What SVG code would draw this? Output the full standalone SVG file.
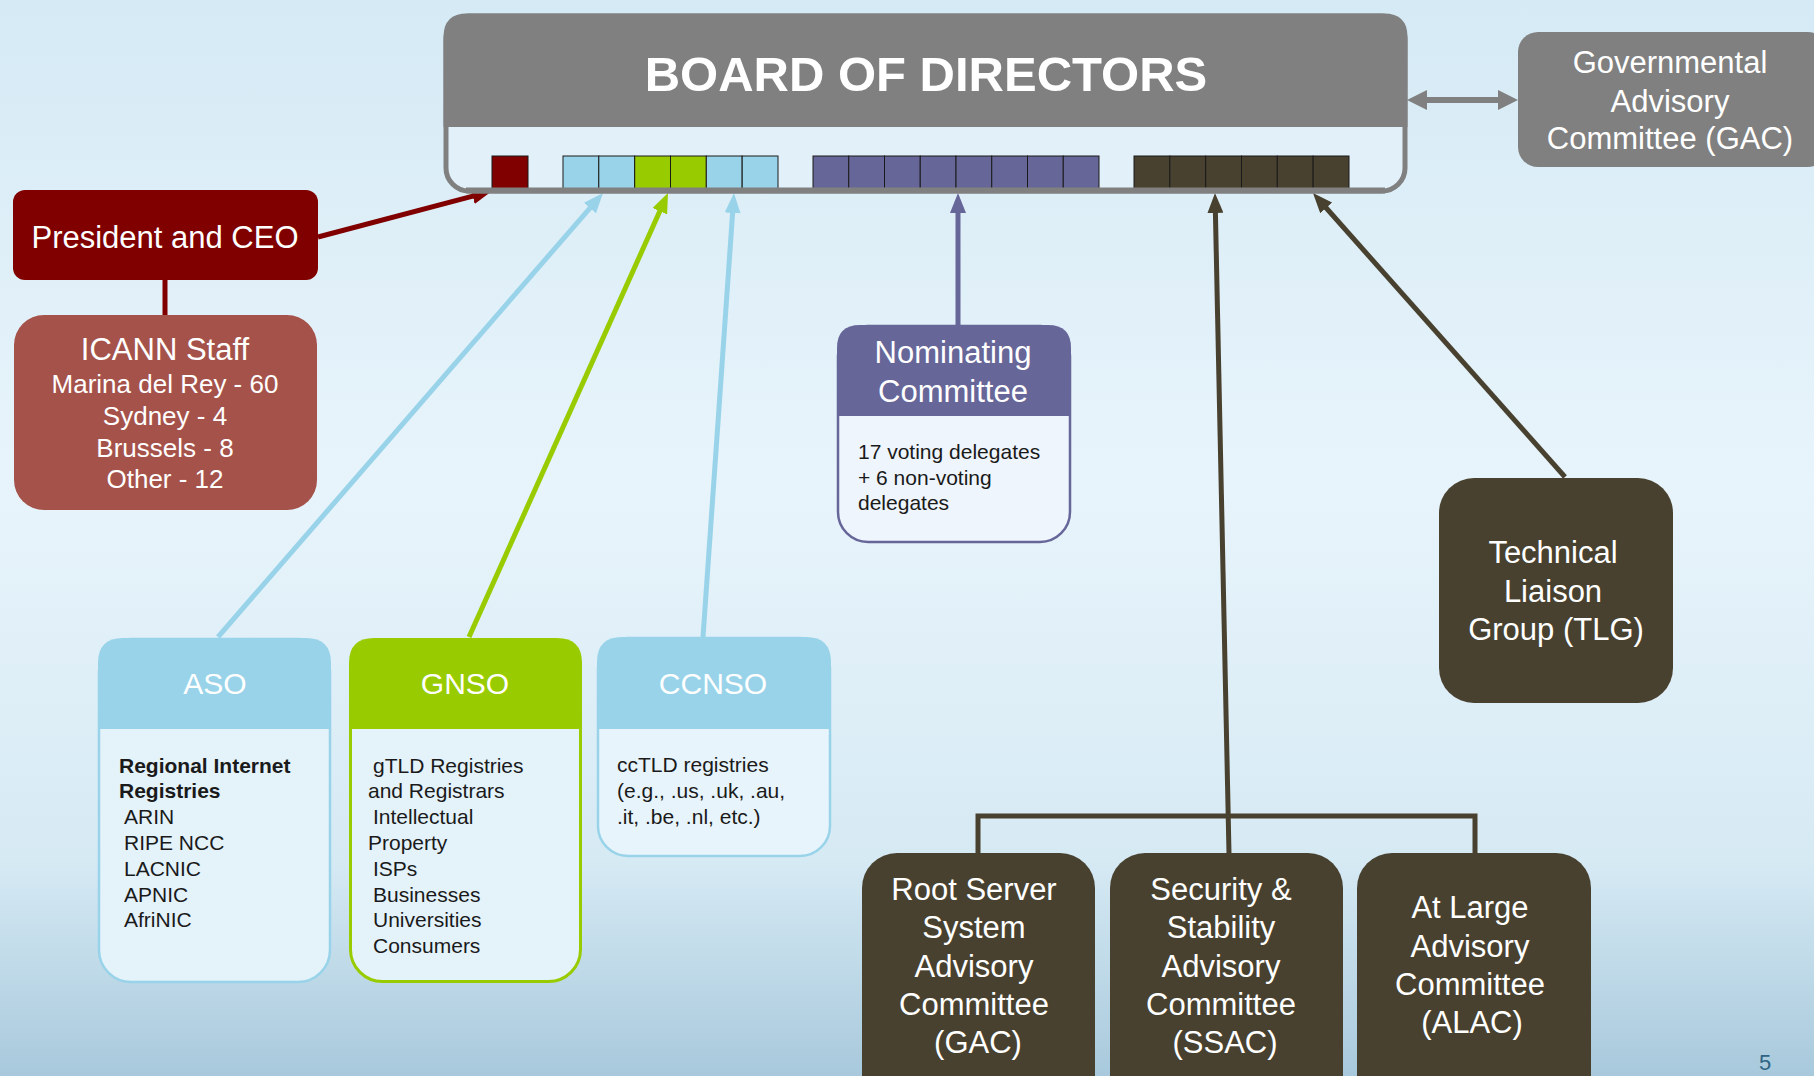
<svg xmlns="http://www.w3.org/2000/svg" width="1814" height="1076" viewBox="0 0 1814 1076">
<defs>
<linearGradient id="bg" x1="0" y1="0" x2="0" y2="1">
<stop offset="0" stop-color="#d5eaf5"/>
<stop offset="0.45" stop-color="#e8f4fb"/>
<stop offset="0.8" stop-color="#d6eaf4"/>
<stop offset="1" stop-color="#a8c9dc"/>
</linearGradient>
<marker id="aRed" viewBox="0 0 20 16" refX="10" refY="8" markerWidth="20" markerHeight="16" markerUnits="userSpaceOnUse" orient="auto"><path d="M0,0 L20,8 L0,16 Z" fill="#800000"/></marker>
<marker id="aBlue" viewBox="0 0 20 16" refX="10" refY="8" markerWidth="20" markerHeight="16" markerUnits="userSpaceOnUse" orient="auto"><path d="M0,0 L20,8 L0,16 Z" fill="#98d3e9"/></marker>
<marker id="aGreen" viewBox="0 0 20 16" refX="10" refY="8" markerWidth="20" markerHeight="16" markerUnits="userSpaceOnUse" orient="auto"><path d="M0,0 L20,8 L0,16 Z" fill="#99cc00"/></marker>
<marker id="aPurple" viewBox="0 0 20 16" refX="10" refY="8" markerWidth="20" markerHeight="16" markerUnits="userSpaceOnUse" orient="auto"><path d="M0,0 L20,8 L0,16 Z" fill="#666699"/></marker>
<marker id="aDark" viewBox="0 0 20 16" refX="10" refY="8" markerWidth="20" markerHeight="16" markerUnits="userSpaceOnUse" orient="auto"><path d="M0,0 L20,8 L0,16 Z" fill="#48412f"/></marker>
<marker id="aGray" viewBox="0 0 20 20" refX="10" refY="10" markerWidth="20" markerHeight="20" markerUnits="userSpaceOnUse" orient="auto-start-reverse"><path d="M0,0 L20,10 L0,20 Z" fill="#808080"/></marker>
</defs>
<style>
text{font-family:"Liberation Sans",Arial,sans-serif}
.w{fill:#ffffff}
.t31{font-size:31px;text-anchor:middle}
.body{font-size:21px;fill:#1a1a1a}
.b{font-weight:bold}
.sq{stroke:#1a1a1a;stroke-width:1}
.conn{fill:none;stroke-width:5}
</style>
<rect x="0" y="0" width="1814" height="1076" fill="url(#bg)"/>

<g id="connectors">
<line x1="165" y1="280" x2="165" y2="315" stroke="#800000" stroke-width="5"/>
<line class="conn" x1="318" y1="237" x2="482.3" y2="193.6" stroke="#800000" marker-end="url(#aRed)"/>
<line class="conn" x1="218" y1="637" x2="596.45" y2="200.55" stroke="#98d3e9" marker-end="url(#aBlue)"/>
<line class="conn" x1="469" y1="637" x2="663.9" y2="202.1" stroke="#99cc00" marker-end="url(#aGreen)"/>
<line class="conn" x1="703" y1="637" x2="733.3" y2="203" stroke="#98d3e9" marker-end="url(#aBlue)"/>
<line class="conn" x1="958" y1="325" x2="958" y2="203" stroke="#666699" marker-end="url(#aPurple)"/>
<line class="conn" x1="1229" y1="853" x2="1215.2" y2="203" stroke="#48412f" marker-end="url(#aDark)"/>
<path class="conn" d="M978,855 V816 H1475 V855" stroke="#48412f"/>
<line class="conn" x1="1565" y1="477" x2="1319.6" y2="200.5" stroke="#48412f" marker-end="url(#aDark)"/>
<line x1="1417" y1="100" x2="1508" y2="100" stroke="#808080" stroke-width="6" marker-start="url(#aGray)" marker-end="url(#aGray)"/>
</g>

<g id="board">
<rect x="446" y="16" width="959" height="175" rx="23" fill="#e2f1f9" stroke="#808080" stroke-width="5"/>
<path d="M443.5,127 V37 Q443.5,13.5 467,13.5 H1384 Q1407.5,13.5 1407.5,37 V127 Z" fill="#808080"/>
<text x="926" y="91" class="w b" font-size="49" text-anchor="middle">BOARD OF DIRECTORS</text>
<rect class="sq" x="492" y="156" width="36" height="33" fill="#800000"/>
<rect class="sq" x="563" y="156" width="35.8" height="33" fill="#98d3e9"/>
<rect class="sq" x="598.8" y="156" width="35.8" height="33" fill="#98d3e9"/>
<rect class="sq" x="634.7" y="156" width="35.8" height="33" fill="#99cc00"/>
<rect class="sq" x="670.5" y="156" width="35.8" height="33" fill="#99cc00"/>
<rect class="sq" x="706.3" y="156" width="35.8" height="33" fill="#98d3e9"/>
<rect class="sq" x="742.2" y="156" width="35.8" height="33" fill="#98d3e9"/>
<rect class="sq" x="813" y="156" width="35.75" height="33" fill="#666699"/>
<rect class="sq" x="848.75" y="156" width="35.75" height="33" fill="#666699"/>
<rect class="sq" x="884.5" y="156" width="35.75" height="33" fill="#666699"/>
<rect class="sq" x="920.25" y="156" width="35.75" height="33" fill="#666699"/>
<rect class="sq" x="956" y="156" width="35.75" height="33" fill="#666699"/>
<rect class="sq" x="991.75" y="156" width="35.75" height="33" fill="#666699"/>
<rect class="sq" x="1027.5" y="156" width="35.75" height="33" fill="#666699"/>
<rect class="sq" x="1063.25" y="156" width="35.75" height="33" fill="#666699"/>
<rect class="sq" x="1134" y="156" width="35.8" height="33" fill="#48412f"/>
<rect class="sq" x="1169.8" y="156" width="35.8" height="33" fill="#48412f"/>
<rect class="sq" x="1205.7" y="156" width="35.8" height="33" fill="#48412f"/>
<rect class="sq" x="1241.5" y="156" width="35.8" height="33" fill="#48412f"/>
<rect class="sq" x="1277.3" y="156" width="35.8" height="33" fill="#48412f"/>
<rect class="sq" x="1313.2" y="156" width="35.8" height="33" fill="#48412f"/>
<line x1="466" y1="190.5" x2="1385" y2="190.5" stroke="#808080" stroke-width="6"/>
</g>

<g id="gac">
<rect x="1518" y="32" width="310" height="135" rx="20" fill="#808080"/>
<text class="w t31" x="1670" y="73">Governmental</text>
<text class="w t31" x="1670" y="112">Advisory</text>
<text class="w t31" x="1670" y="149">Committee (GAC)</text>
</g>

<g id="president">
<rect x="13" y="190" width="305" height="90" rx="12" fill="#800000"/>
<text class="w t31" x="165" y="248">President and CEO</text>
</g>

<g id="staff">
<rect x="14" y="315" width="303" height="195" rx="30" fill="#a5524a"/>
<text class="w t31" x="165" y="360">ICANN Staff</text>
<text class="w" font-size="26" text-anchor="middle" x="165" y="393">Marina del Rey - 60</text>
<text class="w" font-size="26" text-anchor="middle" x="165" y="425">Sydney - 4</text>
<text class="w" font-size="26" text-anchor="middle" x="165" y="457">Brussels - 8</text>
<text class="w" font-size="26" text-anchor="middle" x="165" y="488">Other - 12</text>
</g>

<g id="aso">
<rect x="99" y="639" width="231" height="343" rx="32" fill="#e4f2fa" stroke="#98d3e9" stroke-width="2.5"/>
<path d="M98,729 V663 Q98,638 123,638 H306 Q331,638 331,663 V729 Z" fill="#98d3e9"/>
<text class="w" font-size="30" text-anchor="middle" x="215" y="694">ASO</text>
<text class="body b" x="119" y="773">Regional Internet</text>
<text class="body b" x="119" y="798">Registries</text>
<text class="body" x="124" y="824">ARIN</text>
<text class="body" x="124" y="850">RIPE NCC</text>
<text class="body" x="124" y="876">LACNIC</text>
<text class="body" x="124" y="902">APNIC</text>
<text class="body" x="124" y="927">AfriNIC</text>
</g>

<g id="gnso">
<rect x="350.5" y="639.5" width="230" height="342" rx="32" fill="#e4f2fa" stroke="#99cc00" stroke-width="3"/>
<path d="M349,729 V663 Q349,638 374,638 H557 Q582,638 582,663 V729 Z" fill="#99cc00"/>
<text class="w" font-size="30" text-anchor="middle" x="465" y="694">GNSO</text>
<text class="body" x="373" y="773">gTLD Registries</text>
<text class="body" x="368" y="798">and Registrars</text>
<text class="body" x="373" y="824">Intellectual</text>
<text class="body" x="368" y="850">Property</text>
<text class="body" x="373" y="876">ISPs</text>
<text class="body" x="373" y="902">Businesses</text>
<text class="body" x="373" y="927">Universities</text>
<text class="body" x="373" y="953">Consumers</text>
</g>

<g id="ccnso">
<rect x="598" y="638" width="232" height="218" rx="30" fill="#e8f4fb" stroke="#98d3e9" stroke-width="2.5"/>
<path d="M597,729 V662 Q597,637 622,637 H806 Q831,637 831,662 V729 Z" fill="#98d3e9"/>
<text class="w" font-size="30" text-anchor="middle" x="713" y="694">CCNSO</text>
<text class="body" x="617" y="772">ccTLD registries</text>
<text class="body" x="617" y="798">(e.g., .us, .uk, .au,</text>
<text class="body" x="617" y="824">.it, .be, .nl, etc.)</text>
</g>

<g id="nominating">
<rect x="838" y="326" width="232" height="216" rx="30" fill="#eef5fc" stroke="#666699" stroke-width="2.5"/>
<path d="M837,416 V348 Q837,325 860,325 H1048 Q1071,325 1071,348 V416 Z" fill="#666699"/>
<text class="w t31" x="953" y="363">Nominating</text>
<text class="w t31" x="953" y="402">Committee</text>
<text class="body" x="858" y="459">17 voting delegates</text>
<text class="body" x="858" y="485">+ 6 non-voting</text>
<text class="body" x="858" y="510">delegates</text>
</g>

<g id="tlg">
<rect x="1439" y="478" width="234" height="225" rx="35" fill="#48412f"/>
<text class="w t31" x="1553" y="563">Technical</text>
<text class="w t31" x="1553" y="602">Liaison</text>
<text class="w t31" x="1556" y="640">Group (TLG)</text>
</g>

<g id="rssac">
<rect x="862" y="853" width="233" height="260" rx="35" fill="#48412f"/>
<text class="w t31" x="974" y="900">Root Server</text>
<text class="w t31" x="974" y="938">System</text>
<text class="w t31" x="974" y="977">Advisory</text>
<text class="w t31" x="974" y="1015">Committee</text>
<text class="w t31" x="978" y="1053">(GAC)</text>
</g>

<g id="ssac">
<rect x="1110" y="853" width="233" height="260" rx="35" fill="#48412f"/>
<text class="w t31" x="1221" y="900">Security &amp;</text>
<text class="w t31" x="1221" y="938">Stability</text>
<text class="w t31" x="1221" y="977">Advisory</text>
<text class="w t31" x="1221" y="1015">Committee</text>
<text class="w t31" x="1225" y="1053">(SSAC)</text>
</g>

<g id="alac">
<rect x="1357" y="853" width="234" height="260" rx="35" fill="#48412f"/>
<text class="w t31" x="1470" y="918">At Large</text>
<text class="w t31" x="1470" y="957">Advisory</text>
<text class="w t31" x="1470" y="995">Committee</text>
<text class="w t31" x="1472" y="1033">(ALAC)</text>
</g>

<text x="1765" y="1070" font-size="22" fill="#2f6484" text-anchor="middle">5</text>
</svg>
